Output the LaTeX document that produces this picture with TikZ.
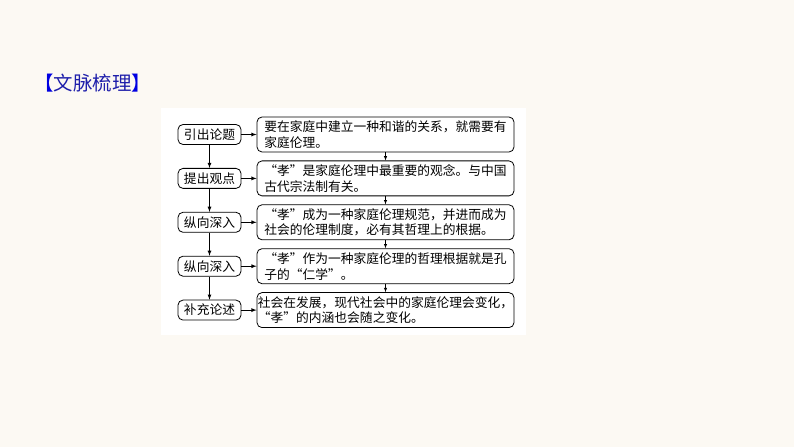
\documentclass[tikz,border=0pt]{standalone}
\usepackage{fontspec}
\setmainfont{Noto Sans CJK SC}
\definecolor{pagebg}{RGB}{252,249,243}
\definecolor{titleblue}{RGB}{30,30,170}
\definecolor{bracketblue}{RGB}{0,0,225}
\begin{document}
\begin{tikzpicture}[x=1bp,y=-1bp,>=latex,line width=0.8bp,
  stage/.style={draw,rounded corners=5bp,minimum width=63bp,minimum height=20bp,
    inner sep=0pt,font=\fontsize{12.8}{16}\selectfont},
  note/.style={draw,rounded corners=5bp,minimum width=257bp,minimum height=35bp,
    inner sep=0pt,align=left,font=\fontsize{12.8}{16}\selectfont}]
\fill[pagebg] (0,0) rectangle (794,447);
\useasboundingbox (0,0) rectangle (794,447);
\fill[white] (161,108) rectangle (526,335);
\node[titleblue,anchor=west,inner sep=0pt,font=\fontsize{19.5}{20}\selectfont] (title) at (34,83)
  {\textcolor{bracketblue}{【}文脉梳理\textcolor{bracketblue}{】}};
\foreach \i/\s/\t in {
  1/引出论题/{要在家庭中建立一种和谐的关系，就需要有\\家庭伦理。},
  2/提出观点/{“孝”是家庭伦理中最重要的观念。与中国\\古代宗法制有关。},
  3/纵向深入/{“孝”成为一种家庭伦理规范，并进而成为\\社会的伦理制度，必有其哲理上的根据。},
  4/纵向深入/{“孝”作为一种家庭伦理的哲理根据就是孔\\子的“仁学”。},
  5/补充论述/{社会在发展，现代社会中的家庭伦理会变化，\\“孝”的内涵也会随之变化。}}{
  \node[stage] (s\i) at (209.5,{134.5+43.9*(\i-1)}) {\s};
  \node[note] (n\i) at (385.5,{134.5+43.9*(\i-1)}) {\t};
}
\foreach \i in {1,...,5}{
  \draw[->] (s\i) -- (n\i);
}
\foreach \i/\j in {1/2,2/3,3/4,4/5}{
  \draw[->] (s\i) -- (s\j);
  \draw[->,line width=0.5bp] (n\i) -- (n\j);
}
\end{tikzpicture}
\end{document}
